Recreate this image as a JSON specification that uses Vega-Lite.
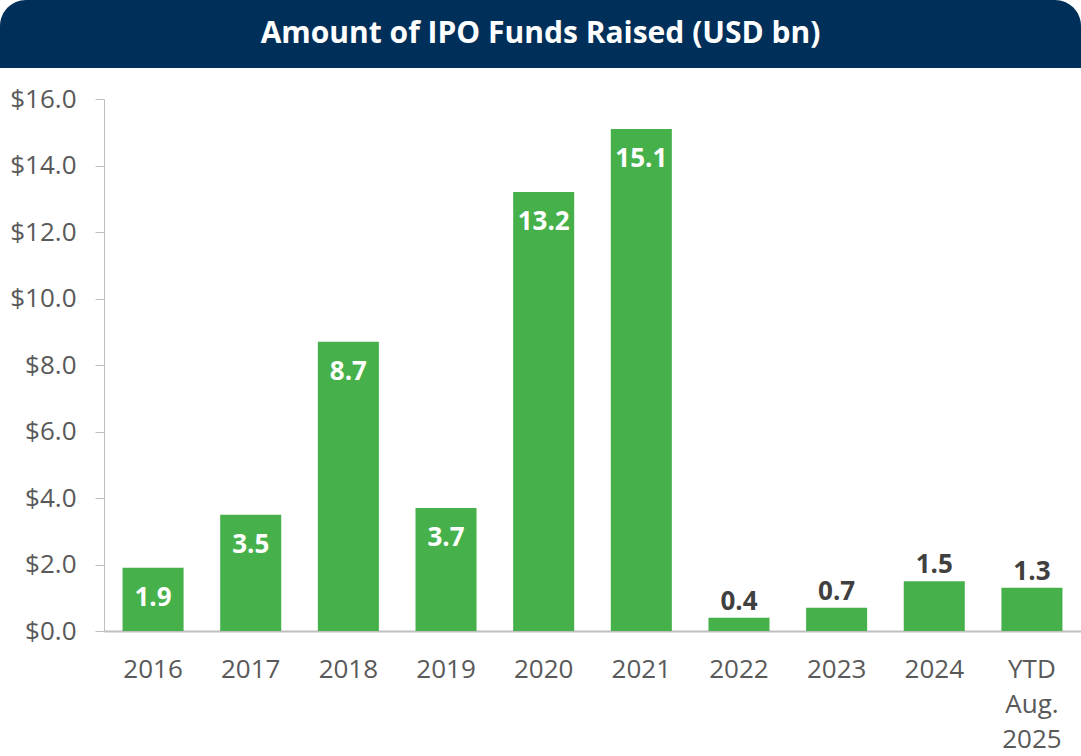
{
  "$schema": "https://vega.github.io/schema/vega-lite/v6.json",
  "padding": 0,
  "spacing": 18,
  "background": "white",
  "config": {"view": {"stroke": null}, "font": "Open Sans"},
  "vconcat": [
    {
      "width": 977,
      "height": 68,
      "data": {"values": [{"title": "Amount of IPO Funds Raised (USD bn)"}]},
      "layer": [
        {
          "mark": {"type": "rect", "color": "#00305A", "cornerRadiusTopLeft": 26, "cornerRadiusTopRight": 26},
          "encoding": {
            "x": {"datum": 0, "type": "quantitative", "scale": {"domain": [0, 1], "range": [-104, 977], "nice": false, "zero": false}, "axis": null},
            "x2": {"datum": 1},
            "y": {"datum": 0, "type": "quantitative", "scale": {"domain": [0, 1], "nice": false, "zero": false}, "axis": null},
            "y2": {"datum": 1}
          }
        },
        {
          "mark": {"type": "text", "color": "white", "fontSize": 30, "fontWeight": "bold", "align": "center", "baseline": "middle"},
          "encoding": {
            "x": {"datum": 0.5, "type": "quantitative"},
            "y": {"datum": 0.5, "type": "quantitative"},
            "text": {"field": "title"}
          }
        }
      ]
    },
    {
      "width": 977,
      "height": 532,
      "data": {
        "values": [
          {"period": "2016", "value": 1.9},
          {"period": "2017", "value": 3.5},
          {"period": "2018", "value": 8.7},
          {"period": "2019", "value": 3.7},
          {"period": "2020", "value": 13.2},
          {"period": "2021", "value": 15.1},
          {"period": "2022", "value": 0.4},
          {"period": "2023", "value": 0.7},
          {"period": "2024", "value": 1.5},
          {"period": "YTD Aug. 2025", "value": 1.3}
        ]
      },
      "encoding": {
        "x": {
          "field": "period",
          "type": "nominal",
          "sort": null,
          "scale": {"paddingInner": 0.375, "paddingOuter": 0.19},
          "axis": {
            "title": null,
            "labelAngle": 0,
            "labelFontSize": 26,
            "labelColor": "#595959",
            "labelPadding": 25,
            "ticks": false,
            "tickSize": 0,
            "domainColor": "#BFBFBF",
            "domainWidth": 2,
            "labelLineHeight": 35,
            "labelExpr": "datum.value == 'YTD Aug. 2025' ? ['YTD', 'Aug.', '2025'] : datum.label"
          }
        },
        "y": {
          "field": "value",
          "type": "quantitative",
          "scale": {"domain": [0, 16], "nice": false},
          "axis": {
            "title": null,
            "values": [0, 2, 4, 6, 8, 10, 12, 14, 16],
            "format": "$.1f",
            "grid": false,
            "labelFontSize": 26,
            "labelColor": "#595959",
            "labelPadding": 19,
            "tickSize": 9,
            "tickColor": "#BFBFBF",
            "domainColor": "#BFBFBF",
            "minExtent": 104,
            "maxExtent": 104
          }
        }
      },
      "layer": [
        {"mark": {"type": "bar", "color": "#46B04A"}},
        {
          "transform": [{"filter": "datum.value >= 1.7"}],
          "mark": {"type": "text", "color": "white", "fontSize": 26, "fontWeight": "bold", "baseline": "middle", "dy": 30},
          "encoding": {"text": {"field": "value", "type": "quantitative", "format": ".1f"}}
        },
        {
          "transform": [{"filter": "datum.value < 1.7"}],
          "mark": {"type": "text", "color": "#404040", "fontSize": 26, "fontWeight": "bold", "baseline": "middle", "dy": -16},
          "encoding": {"text": {"field": "value", "type": "quantitative", "format": ".1f"}}
        }
      ]
    }
  ]
}
